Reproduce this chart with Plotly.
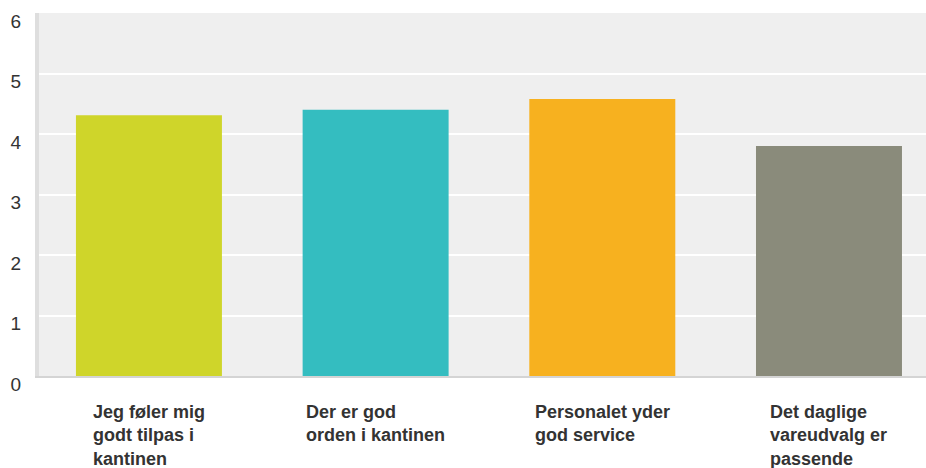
import plotly.graph_objects as go

categories = [
    "Jeg føler mig<br>godt tilpas i<br>kantinen",
    "Der er god<br>orden i kantinen",
    "Personalet yder<br>god service",
    "Det daglige<br>vareudvalg er<br>passende",
]
values = [4.31, 4.40, 4.58, 3.80]
bar_colors = ["#CFD52A", "#34BDC0", "#F7B11F", "#8A8B7B"]
y_ticks = [0, 1, 2, 3, 4, 5, 6]

FONT = "Arial, Liberation Sans, Helvetica, sans-serif"
TEXT = "#333333"

xs = list(range(len(categories)))

fig = go.Figure(go.Bar(
    x=xs, y=values, width=0.644,
    marker=dict(color=bar_colors, line=dict(width=0)),
    hoverinfo="skip",
))

for i, label in enumerate(categories):
    fig.add_annotation(
        x=i, xref="x", y=0, yref="paper",
        xanchor="center", yanchor="top", yshift=-24,
        text=label, align="left", showarrow=False,
        font=dict(family=FONT, size=18, color=TEXT, weight="bold"),
    )

fig.update_layout(
    width=926, height=468,
    margin=dict(l=39, r=0, t=13, b=92),
    paper_bgcolor="white",
    plot_bgcolor="#EFEFEF",
    showlegend=False,
    xaxis=dict(
        range=[-0.485, 3.428], showticklabels=False, showgrid=False,
        zeroline=False, showline=True, linecolor="#D4D4D4", linewidth=2,
        ticks="",
    ),
    yaxis=dict(
        range=[0, 6], tickvals=y_ticks, showgrid=True, gridcolor="white",
        gridwidth=2, zeroline=False, showline=True, linecolor="#DEDEDE",
        linewidth=4, ticks="", ticklabelstandoff=10, ticklabelshift=8,
        tickfont=dict(family=FONT, size=19, color=TEXT),
    ),
)

# page body margin would push the chart 8px off the window
fig.write_html("out.html", config={"displayModeBar": False},
               post_script="document.body.style.margin='0';")
